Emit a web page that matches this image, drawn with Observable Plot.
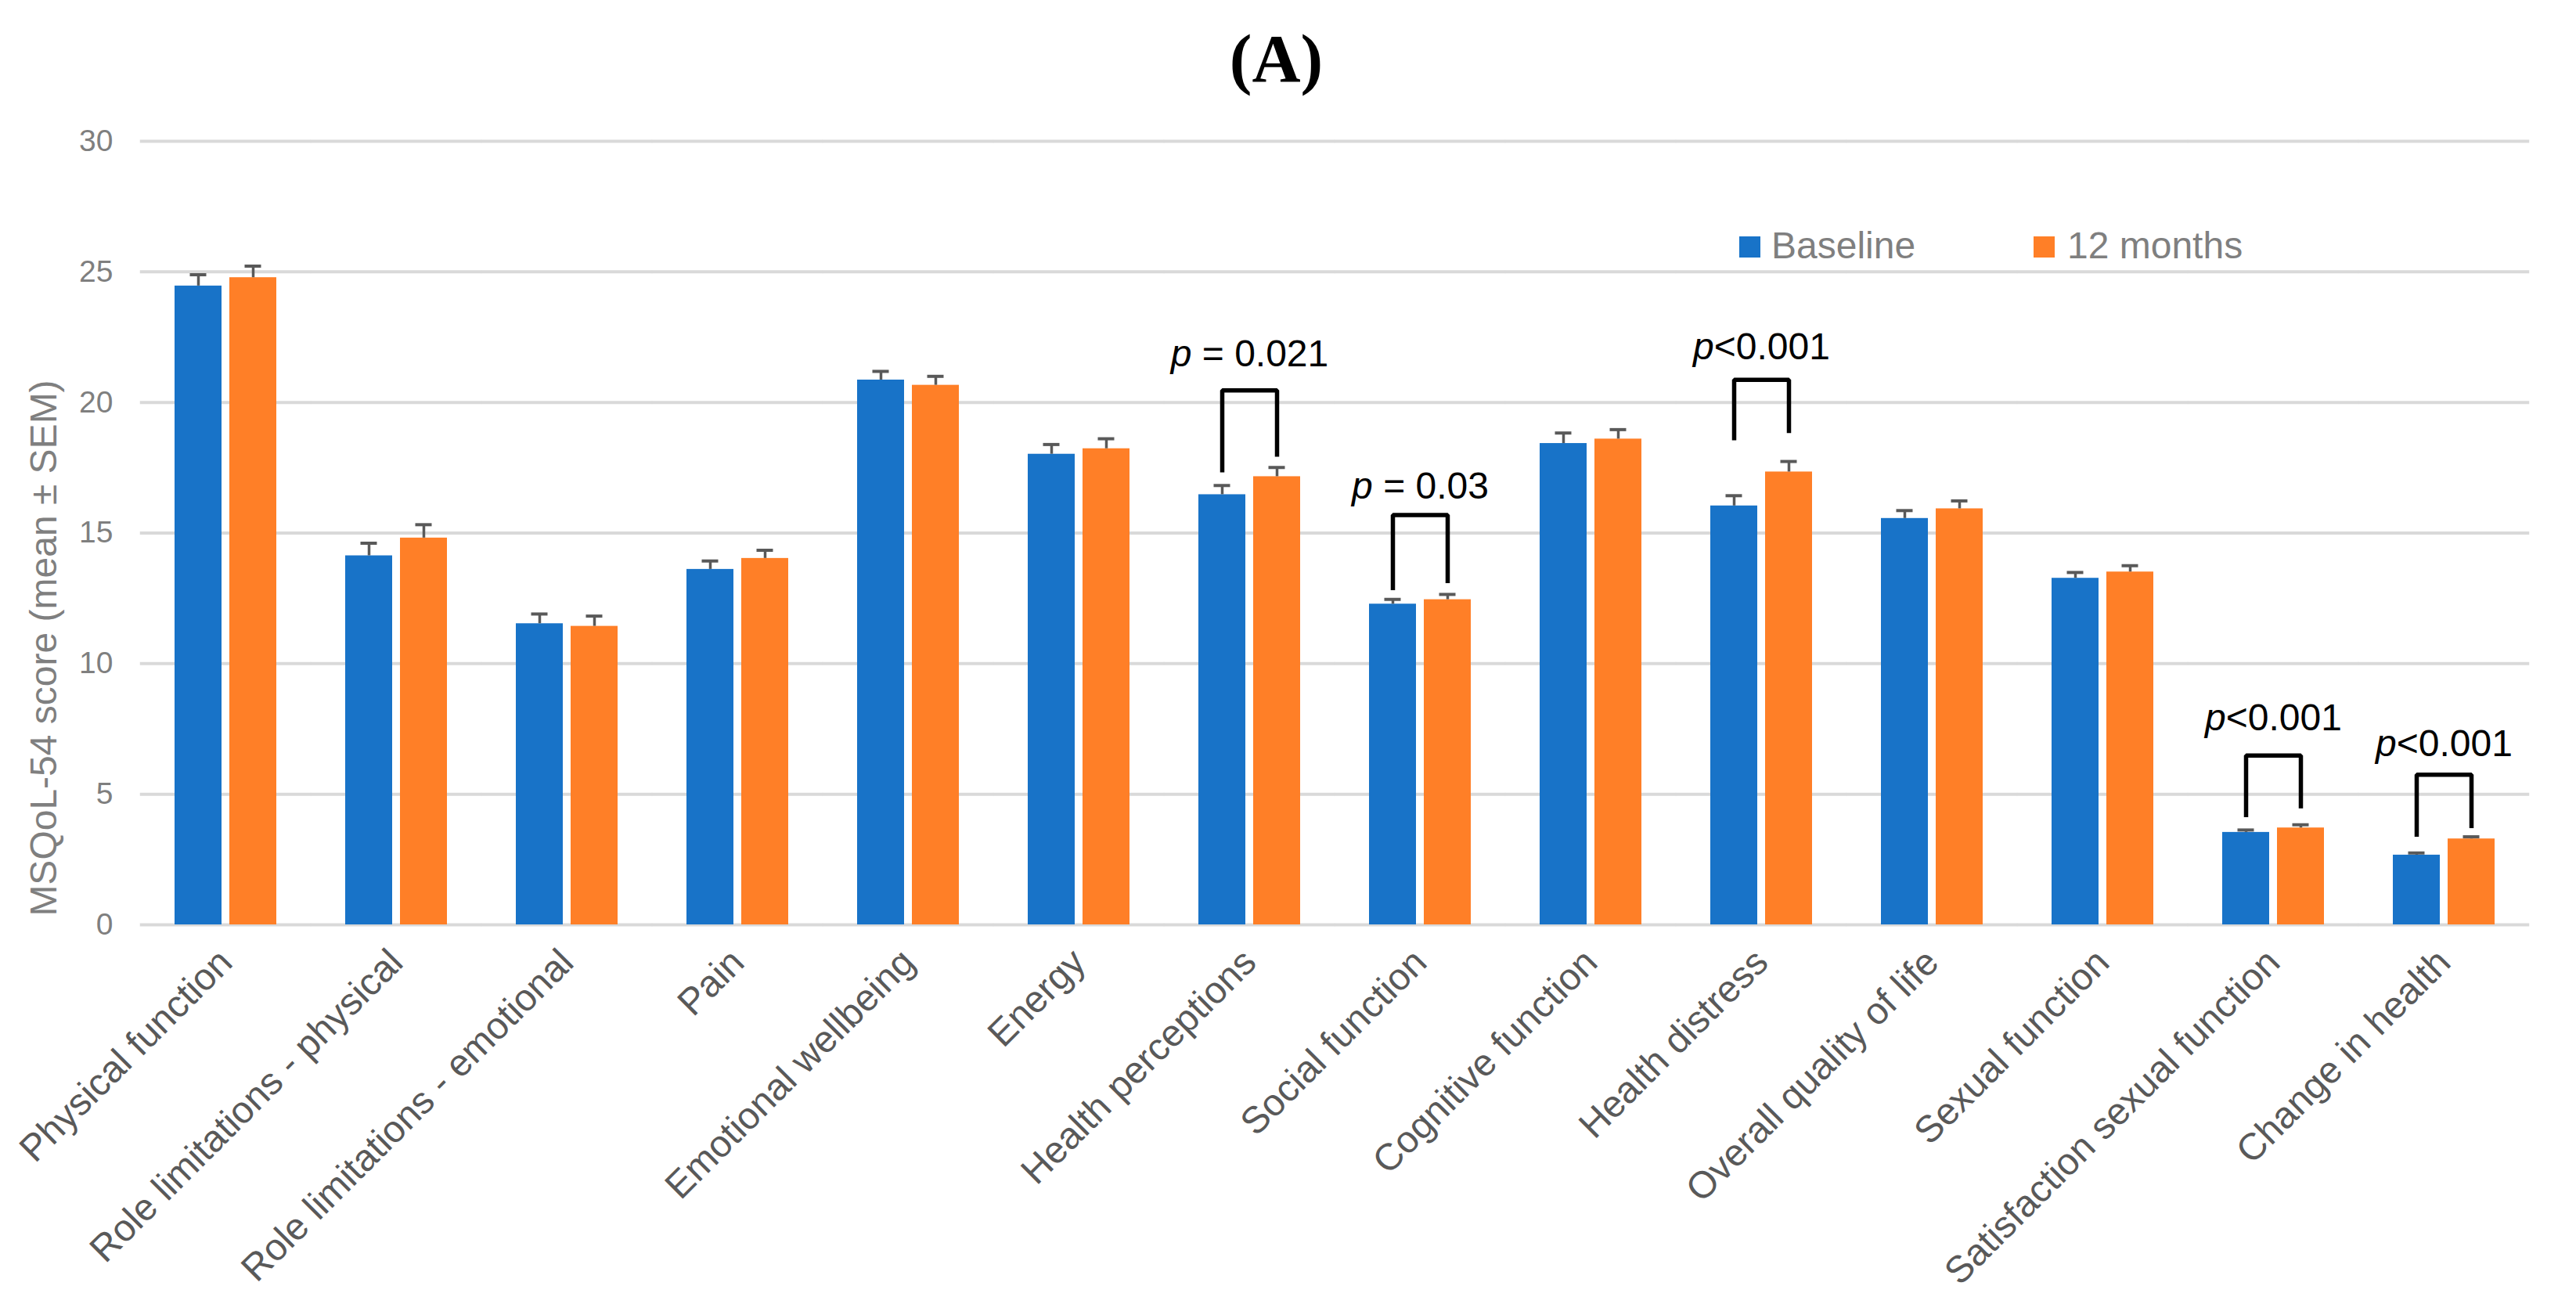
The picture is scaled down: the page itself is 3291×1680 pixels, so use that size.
<!DOCTYPE html>
<html>
<head>
<meta charset="utf-8">
<script src="https://cdn.jsdelivr.net/npm/d3@7"></script>
<script src="https://cdn.jsdelivr.net/npm/@observablehq/plot@0.6"></script>
<style>
  html, body { margin: 0; padding: 0; background: #fff; }
  body { width: 3291px; height: 1680px; overflow: hidden; position: relative; font-family: "Liberation Sans", Arial, sans-serif; }
  #title { height: 150px; line-height: 150px; text-align: center; font-family: "Liberation Serif", "Times New Roman", serif; font-weight: bold; font-size: 86px; color: #000; padding-right: 30px; }
  #ylabel { position: absolute; left: 56px; top: 828px; transform: translate(-50%, -50%) rotate(-90deg); font-size: 48px; line-height: 1; color: #7f7f7f; white-space: nowrap; }
  .lg-sw { position: absolute; top: 302px; width: 27px; height: 27px; }
  .lg-tx { position: absolute; top: 290px; font-size: 48px; line-height: 1; color: #7f7f7f; white-space: nowrap; }
  #chart svg { display: block; }
</style>
</head>
<body>
<div id="title">(A)</div>
<div id="chart"></div>
<div id="ylabel">MSQoL-54 score (mean ± SEM)</div>
<div class="lg-sw" style="left:2222px;background:#1873C8"></div>
<div class="lg-tx" style="left:2263px">Baseline</div>
<div class="lg-sw" style="left:2598px;background:#FF7F27"></div>
<div class="lg-tx" style="left:2641px">12 months</div>
<script>
const categories = [
  "Physical function", "Role limitations - physical", "Role limitations - emotional", "Pain",
  "Emotional wellbeing", "Energy", "Health perceptions", "Social function", "Cognitive function",
  "Health distress", "Overall quality of life", "Sexual function", "Satisfaction sexual function", "Change in health"
];
const seriesNames = ["Baseline", "12 months"];
const seriesColors = ["#1873C8", "#FF7F27"];
const baselineMean = [24.46, 14.13, 11.53, 13.61, 20.86, 18.02, 16.47, 12.28, 18.43, 16.04, 15.56, 13.27, 3.54, 2.67];
const baselineSem  = [0.43, 0.48, 0.37, 0.32, 0.33, 0.37, 0.35, 0.18, 0.40, 0.39, 0.30, 0.22, 0.09, 0.08];
const month12Mean  = [24.78, 14.81, 11.43, 14.03, 20.66, 18.23, 17.16, 12.45, 18.60, 17.34, 15.93, 13.51, 3.71, 3.29];
const month12Sem   = [0.44, 0.51, 0.39, 0.31, 0.34, 0.38, 0.35, 0.20, 0.36, 0.40, 0.30, 0.24, 0.12, 0.08];
const yTicks = [0, 5, 10, 15, 20, 25, 30];

const sigCategories = ["Health perceptions", "Social function", "Health distress", "Satisfaction sexual function", "Change in health"];
const bracketTop = [20.46, 15.69, 20.87, 6.48, 5.75];
const bracketBaselineEnd = [17.32, 12.81, 18.55, 4.12, 3.37];
const bracketMonth12End = [17.92, 13.08, 18.83, 4.46, 3.70];
const pLabels = ["p = 0.021", "p = 0.03", "p<0.001", "p<0.001", "p<0.001"];
const pLabelY = [21.38, 16.31, 21.64, 7.46, 6.46];

const data = categories.flatMap((c, i) => [
  {category: c, series: seriesNames[0], mean: baselineMean[i], sem: baselineSem[i]},
  {category: c, series: seriesNames[1], mean: month12Mean[i], sem: month12Sem[i]}
]);
const bracketPoints = sigCategories.flatMap((c, i) => [
  {category: c, series: seriesNames[0], y: bracketBaselineEnd[i]},
  {category: c, series: seriesNames[0], y: bracketTop[i]},
  {category: c, series: seriesNames[1], y: bracketTop[i]},
  {category: c, series: seriesNames[1], y: bracketMonth12End[i]}
]);
const labels = sigCategories.map((c, i) => ({category: c, text: pLabels[i], y: pLabelY[i]}));

const W = 3291, H = 1530, mL = 175, mR = 57, mT = 30, mB = 499;
const fxPad = 0.405;
const step = (W - mL - mR) / categories.length;
const halfGap = step * fxPad / 2;

const plot = Plot.plot({
  width: W, height: H,
  marginTop: mT, marginBottom: mB, marginLeft: mL, marginRight: mR,
  style: {fontFamily: "Liberation Sans, Arial, sans-serif", background: "#fff", overflow: "visible"},
  fx: {domain: categories, paddingInner: fxPad, paddingOuter: fxPad / 2, label: null},
  x: {domain: seriesNames, paddingInner: 0.143, paddingOuter: 0, axis: null},
  y: {domain: [0, 30], label: null},
  color: {domain: seriesNames, range: seriesColors},
  marks: [
    Plot.ruleY(yTicks, {stroke: "#d9d9d9", strokeWidth: 4, insetLeft: -halfGap, insetRight: -halfGap}),
    Plot.barY(data, {fx: "category", x: "series", y: "mean", fill: "series"}),
    Plot.ruleX(data, {fx: "category", x: "series", y1: "mean", y2: d => d.mean + d.sem, stroke: "#595959", strokeWidth: 3.5}),
    Plot.tickY(data, {fx: "category", x: "series", y: d => d.mean + d.sem, stroke: "#595959", strokeWidth: 4, insetLeft: 19.5, insetRight: 19.5}),
    Plot.line(bracketPoints, {fx: "category", x: "series", y: "y", z: "category", stroke: "#000", strokeWidth: 5.5, strokeLinejoin: "miter", strokeLinecap: "butt"}),
    Plot.text(labels, {fx: "category", y: "y", text: "text", lineAnchor: "bottom", fontSize: 48, fill: "#000"}),
    Plot.axisY({ticks: yTicks, tickSize: 0, tickPadding: 79, fontSize: 39, fill: "#7f7f7f", label: null}),
    Plot.axisFx({anchor: "bottom", tickRotate: -45, tickSize: 0, tickPadding: 40, fontSize: 48, fill: "#595959", label: null})
  ]
});
document.getElementById("chart").appendChild(plot);

d3.select(plot).selectAll("text").each(function() {
  const t = this.textContent;
  if (/^p( = |<)/.test(t)) {
    this.textContent = "";
    const s = d3.select(this);
    s.append("tspan").attr("font-style", "italic").text("p");
    s.append("tspan").text(t.slice(1));
  }
});
</script>
</body>
</html>
